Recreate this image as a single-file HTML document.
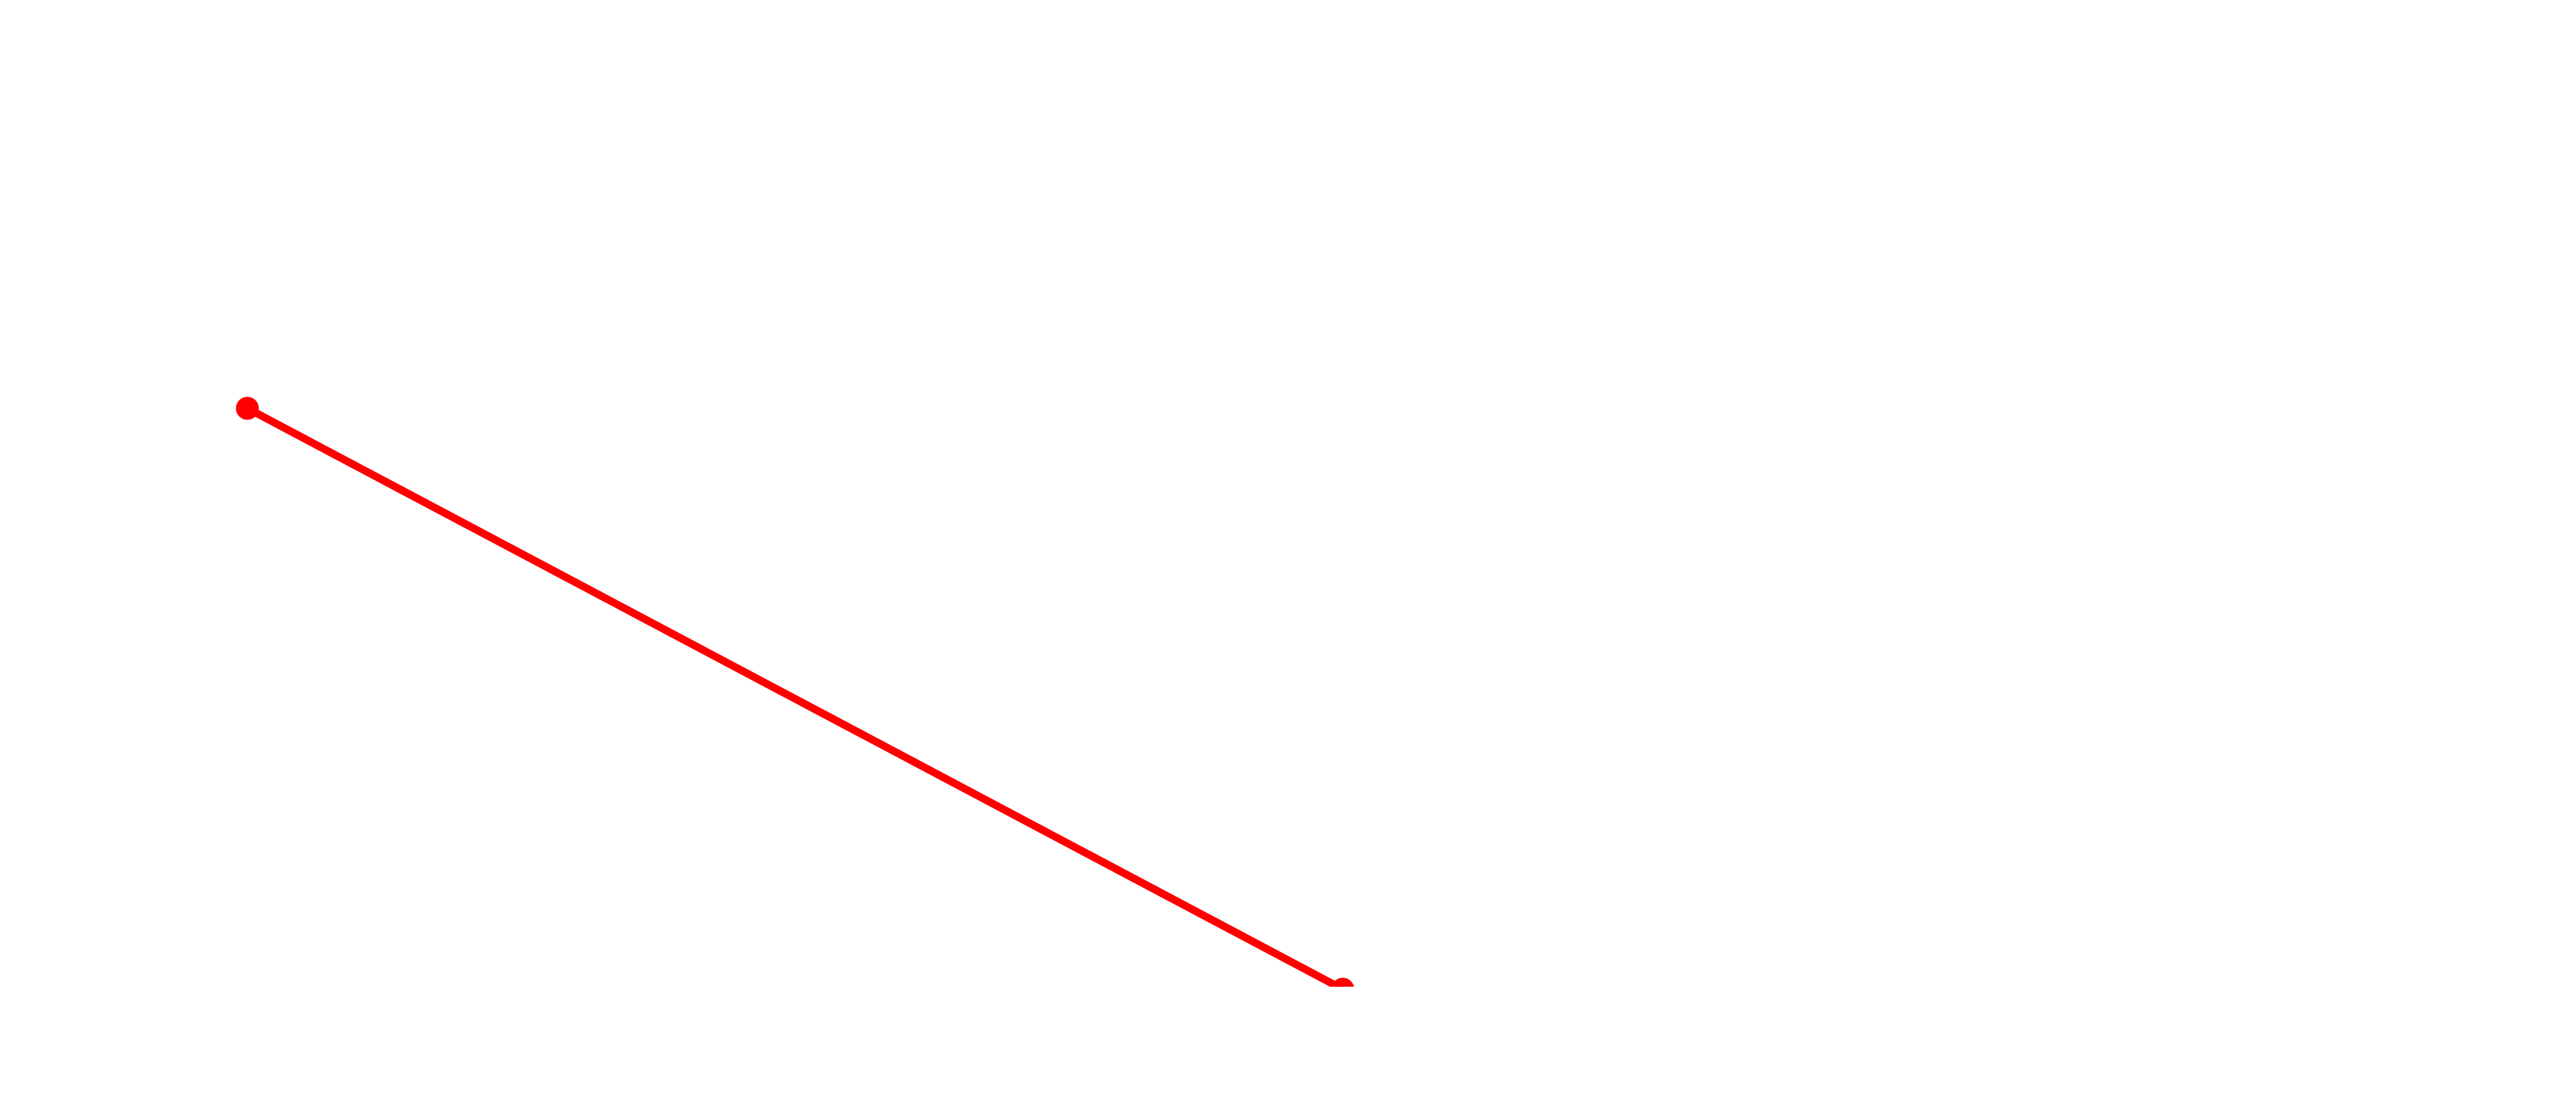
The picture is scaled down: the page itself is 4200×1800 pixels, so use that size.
<!DOCTYPE html>
<html lang="en">
<head>
<meta charset="utf-8">
<title>Two-point red line chart</title>
<style>
  html, body { margin: 0; padding: 0; background: #ffffff; width: 4200px; height: 1800px; overflow: hidden; }
  svg { display: block; }
</style>
</head>
<body>
<svg id="chart" xmlns="http://www.w3.org/2000/svg" width="4200" height="1800" viewBox="0 0 4200 1800">
  <rect x="0" y="0" width="4200" height="1800" fill="#ffffff"></rect>
  <defs>
    <clipPath id="plot-clip">
      <rect x="0" y="0" width="4200" height="1608.8"></rect>
    </clipPath>
  </defs>
  <g id="plot" clip-path="url(#plot-clip)"></g>
</svg>
<script>
const categories = ["A", "B"];
const seriesValues = [67.36, -0.29];

const SVG_NS = "http://www.w3.org/2000/svg";
const plotBottom = 1608.8;
const unitHeight = 14;
const firstX = 403.3;
const stepX = 1786;
const lineColor = "#ff0000";

function xAxis(index) {
  return firstX + index * stepX;
}
function yAxis(value) {
  return plotBottom - value * unitHeight;
}

const plot = document.getElementById("plot");

const line = document.createElementNS(SVG_NS, "polyline");


line.setAttribute("points", seriesValues.map(function (v, i) {
  return xAxis(i) + "," + yAxis(v);
}).join(" "));
line.setAttribute("fill", "none");
line.setAttribute("stroke", lineColor);
line.setAttribute("stroke-width", "12.5");
plot.appendChild(line);

seriesValues.forEach(function (v, i) {
  const dot = document.createElementNS(SVG_NS, "circle");
  
  
  dot.setAttribute("data-category", categories[i]);
  dot.setAttribute("cx", xAxis(i));
  dot.setAttribute("cy", yAxis(v));
  dot.setAttribute("r", "18.75");
  dot.setAttribute("fill", lineColor);
  plot.appendChild(dot);
});
</script>
</body>
</html>
